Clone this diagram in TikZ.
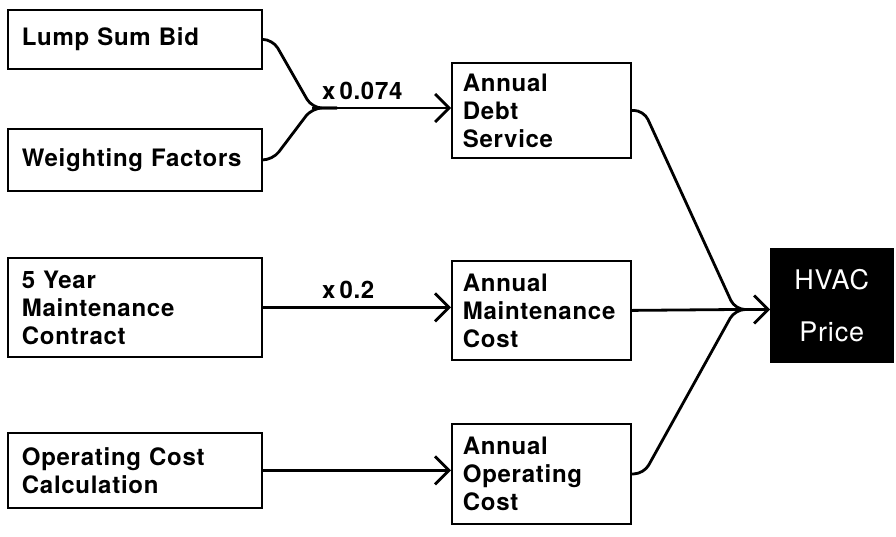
\documentclass[tikz,border=0pt]{standalone}
\usepackage{fontspec}
\setmainfont{TeX Gyre Heros}
\newfontfamily\boxfont[LetterSpace=3,WordSpace=1.4]{TeX Gyre Heros}
\usetikzlibrary{arrows.meta}
\begin{document}
\begin{tikzpicture}[x=1pt,y=-1pt,
 box/.style={draw, line width=1.8pt, anchor=north west, align=left, font=\fontsize{24}{28}\selectfont\boxfont\bfseries, inner ysep=0pt},
 lbox/.style={box, minimum width=254pt, text width=226pt, inner xsep=14pt},
 abox/.style={box, minimum width=179pt, text width=157pt, inner xsep=11pt},
 hbox/.style={draw=black, fill=black, text=white, anchor=north west, align=center, minimum width=123pt, minimum height=114pt, font=\fontsize{27}{52}\selectfont\boxfont},
 conn/.style={line width=2.8pt, rounded corners=10pt},
 arr/.style={line width=2.8pt, -{Straight Barb[length=14pt,width=28pt,line width=2.8pt]}},
 lab/.style={font=\fontsize{24}{28}\selectfont\boxfont\bfseries, anchor=south west, inner sep=0pt}]
\useasboundingbox (0,0) rectangle (896,536);
\node[lbox, minimum height=59pt] (lump) at (7,9) {Lump Sum Bid};
\node[lbox, minimum height=62pt] (wf) at (7,128) {Weighting Factors};
\node[lbox, minimum height=99pt] (five) at (7,257) {5 Year\\Maintenance\\Contract};
\node[lbox, minimum height=75pt] (opc) at (7,432) {Operating Cost\\Calculation};
\node[abox, minimum height=95pt] (ads) at (451,62) {Annual\\Debt\\Service};
\node[abox, minimum height=99pt] (amc) at (451,260) {Annual\\Maintenance\\Cost};
\node[abox, minimum height=100pt] (aoc) at (451,423) {Annual\\Operating\\Cost};
\node[hbox] (price) at (770,248) {HVAC\\Price};
\coordinate (j1) at (312,108);
\coordinate (j2) at (735,309.5);
\draw[conn] (lump.east) -- ++(10,0) -- (j1) -- ++(25,0);
\draw[conn] (wf.east) -- ++(10,0) -- (j1) -- ++(25,0);
\draw[arr] (j1) -- (j1 -| ads.west);
\node[lab] (l1) at (322,100) {x\,0.074};
\draw[arr] (five.east) -- (five.east -| amc.west);
\node[lab] (l2) at (322,299) {x\,0.2};
\draw[arr] (opc.east) -- (opc.east -| aoc.west);
\draw[conn] (ads.east) -- ++(12,0) -- (j2) -- ++(20,0);
\draw[conn] (aoc.east) -- ++(12,0) -- (j2) -- ++(20,0);
\draw[line width=2.8pt] (amc.east) -- (j2);
\draw[arr] (j2) -- (j2 -| price.west);
\end{tikzpicture}
\end{document}
